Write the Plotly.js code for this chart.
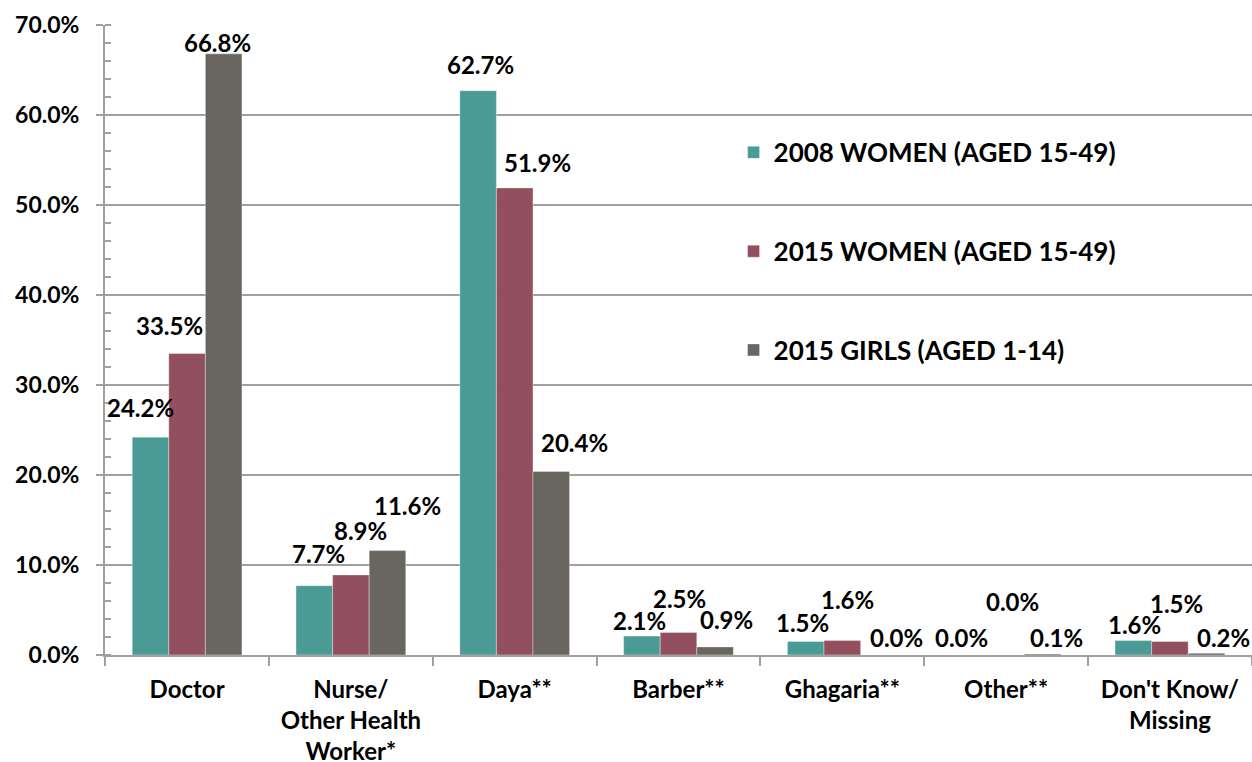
<!DOCTYPE html>
<html>
<head>
<meta charset="utf-8">
<script src="https://cdn.plot.ly/plotly-3.0.1.min.js"></script>
<style>html,body{margin:0;padding:0;background:#fff;}#chart{width:1252px;height:762px;}</style>
</head>
<body>
<div id="chart"></div>
<script>
const categories = ["Doctor", "Nurse/<br>Other Health<br>Worker*", "Daya**", "Barber**", "Ghagaria**", "Other**", "Don't Know/<br>Missing"];
const seriesNames = ["2008 WOMEN (AGED 15-49)", "2015 WOMEN (AGED 15-49)", "2015 GIRLS (AGED 1-14)"];
const women2008 = [24.2, 7.7, 62.7, 2.1, 1.5, 0.0, 1.6];
const women2015 = [33.5, 8.9, 51.9, 2.5, 1.6, 0.0, 1.5];
const girls2015 = [66.8, 11.6, 20.4, 0.9, 0.0, 0.1, 0.2];
const yTicks = [0, 10, 20, 30, 40, 50, 60, 70];

// styling
const colors = ["#4a9b95", "#924f5d", "#68665f"];
const FONT = "Lato, 'Open Sans', sans-serif";
const bargap = 0.33;
// label nudges in screen px [dx, dy] (dy negative = upward), per series per category (style only)
const labelNudge = [
  [[-10,-30],[4,-32],[2,-26],[-2,-16],[-3,-19],[-8,-18],[1,-16]],
  [[-18,-28],[10,-44],[23,-25],[1,-34],[5,-41],[6,-54],[7,-38]],
  [[-6,-11],[20,-45],[23,-29],[11,-27],[18,-18],[14,-17],[17,-16]]
];

const seriesVals = [women2008, women2015, girls2015];
const traces = seriesVals.map((vals, s) => ({
  type: "bar",
  name: seriesNames[s],
  x: categories,
  y: vals,
  legendgroup: "g" + s,
  marker: {color: colors[s], line: {color: "rgba(255,255,255,0.6)", width: 0.6}},
  hoverinfo: "skip"
}));

const annotations = [];
const barW = (1 - bargap) / 3;
seriesVals.forEach((vals, s) => {
  vals.forEach((v, i) => {
    annotations.push({
      xref: "x", yref: "y",
      x: i + (s - 1) * barW,
      y: v,
      text: v.toFixed(1) + "%",
      showarrow: false,
      xanchor: "center", yanchor: "middle",
      xshift: labelNudge[s][i][0],
      yshift: -labelNudge[s][i][1],
      font: {family: FONT, size: 24, color: "#000", weight: "bold"}
    });
  });
});

const layout = {
  width: 1252, height: 762,
  margin: {l: 105, r: 0, t: 25, b: 107},
  paper_bgcolor: "#fff", plot_bgcolor: "#fff",
  barmode: "group", bargap: bargap, bargroupgap: 0,
  font: {family: FONT, color: "#000", weight: "bold"},
  showlegend: true,
  legend: {
    x: 0.548, y: 0.835, xanchor: "left", yanchor: "top",
    font: {family: FONT, size: 26, color: "#000", weight: "bold"},
    tracegroupgap: 62, bgcolor: "rgba(255,255,255,0)",
    itemwidth: 30
  },
  xaxis: {
    type: "category",
    tickson: "boundaries",
    ticks: "outside", ticklen: 9, tickwidth: 2, tickcolor: "#a0a0a0",
    showline: true, linecolor: "#a0a0a0", linewidth: 2,
    showgrid: false,
    tickfont: {family: FONT, size: 24, color: "#000", weight: "bold"},
    ticklabelstandoff: 12,
    fixedrange: true
  },
  yaxis: {
    range: [0, 70],
    tickvals: yTicks,
    ticktext: yTicks.map(t => t.toFixed(1) + "%"),
    ticks: "outside", ticklen: 7, tickwidth: 2, tickcolor: "#a0a0a0",
    showline: true, linecolor: "#a0a0a0", linewidth: 2,
    showgrid: true, gridcolor: "#a0a0a0", gridwidth: 2,
    zeroline: false,
    minor: {dtick: 2, ticks: "inside", ticklen: 6, tickwidth: 2, tickcolor: "#a0a0a0", showgrid: false},
    tickfont: {family: FONT, size: 23, color: "#000", weight: "bold"},
    ticklabelstandoff: 12,
    fixedrange: true
  },
  annotations: annotations
};

Plotly.newPlot("chart", traces, layout, {displayModeBar: false, staticPlot: true});
</script>
</body>
</html>
